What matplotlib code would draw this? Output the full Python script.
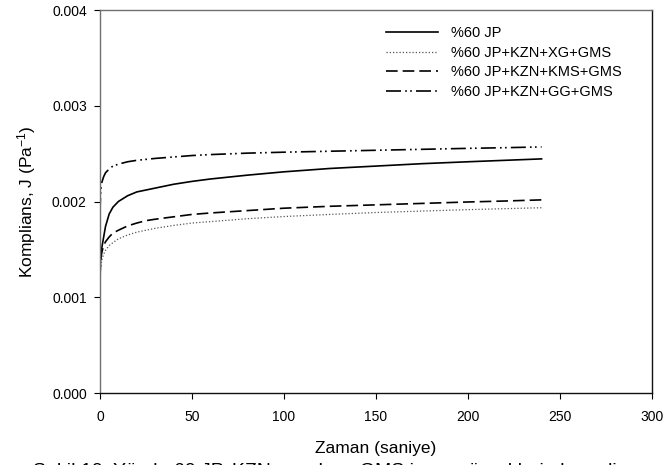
import numpy as np
import matplotlib
matplotlib.use("Agg")
import matplotlib.pyplot as plt
from matplotlib.ticker import FormatStrFormatter

plt.rcParams["font.family"] = ["Liberation Sans", "DejaVu Sans"]
plt.rcParams["mathtext.fontset"] = "custom"
plt.rcParams["mathtext.rm"] = "Liberation Sans"
plt.rcParams["mathtext.default"] = "regular"

# creep compliance (x 1e-3 Pa^-1) vs time (s)
time_s = [0, 0.1, 0.3, 0.6, 1, 2, 3, 5, 7, 10, 15, 20, 25, 30, 40, 50,
          60, 80, 100, 125, 150, 175, 200, 220, 240]
j_jp = [0, 1.30, 1.40, 1.46, 1.52, 1.63, 1.74, 1.87, 1.94, 2.00, 2.06, 2.10,
        2.12, 2.14, 2.18, 2.21, 2.235, 2.275, 2.31, 2.345, 2.37, 2.395,
        2.415, 2.43, 2.445]
j_xg = [0, 1.22, 1.30, 1.35, 1.39, 1.45, 1.49, 1.54, 1.57, 1.61, 1.65, 1.68,
        1.70, 1.72, 1.75, 1.775, 1.79, 1.82, 1.843, 1.865, 1.885, 1.90,
        1.915, 1.925, 1.935]
j_kms = [0, 1.25, 1.35, 1.42, 1.47, 1.54, 1.58, 1.63, 1.67, 1.70, 1.745,
         1.775, 1.80, 1.815, 1.84, 1.865, 1.88, 1.905, 1.93, 1.95, 1.965,
         1.98, 1.995, 2.005, 2.017]
j_gg = [0, 1.95, 2.08, 2.15, 2.20, 2.26, 2.30, 2.34, 2.37, 2.39, 2.415, 2.43,
        2.44, 2.45, 2.465, 2.48, 2.49, 2.505, 2.515, 2.525, 2.535, 2.545,
        2.555, 2.562, 2.57]

labels = ["%60 JP", "%60 JP+KZN+XG+GMS", "%60 JP+KZN+KMS+GMS", "%60 JP+KZN+GG+GMS"]
caption = "Şekil 10. Yüzde 60 JP, KZN, zamk ve GMS içeren örneklerin komplians eğrileri"

fig = plt.figure(figsize=(6.65, 4.65), dpi=100)
ax = fig.add_axes([100 / 665, 1 - 393 / 465, 552 / 665, 383 / 465])

t = np.array(time_s)
styles = [
    dict(color="black", lw=1.2, ls="-"),
    dict(color="#555555", lw=0.9, ls=(0, (1, 1.6))),
    dict(color="black", lw=1.2, ls=(0, (7, 3))),
    dict(color="black", lw=1.2, ls=(0, (9, 2.5, 1, 2, 1, 2.5))),
]
for vals, lab, st in zip([j_jp, j_xg, j_kms, j_gg], labels, styles):
    ax.plot(t, np.array(vals) * 1e-3, label=lab, **st)

ax.set_xlim(0, 300)
ax.set_ylim(0, 0.004)
ax.set_xticks(np.arange(0, 301, 50))
ax.set_yticks(np.arange(0, 0.0041, 0.001))
ax.yaxis.set_major_formatter(FormatStrFormatter("%.3f"))
ax.tick_params(direction="out", length=4.5, width=0.8, labelsize=10, pad=5)
ax.tick_params(axis="x", pad=8)

ax.spines["top"].set_color("#707070")
ax.spines["left"].set_color("#707070")
for s in ["bottom", "right"]:
    ax.spines[s].set_color("#111111")
for s in ax.spines.values():
    s.set_linewidth(1.0)

ax.set_xlabel("Zaman (saniye)", fontsize=12.5, labelpad=12)
ax.set_ylabel("Komplians, J (Pa$^{-1}$)", fontsize=12.5, labelpad=10)

ax.legend(loc="upper left", bbox_to_anchor=(0.518, 0.958), frameon=False,
          fontsize=10.5, handlelength=3.6, handletextpad=0.85, labelspacing=0.38,
          borderpad=0, borderaxespad=0)

# figure caption, partly below the bottom edge
fig.text(0.05, -11 / 465, caption, fontsize=14, va="baseline", ha="left")

fig.savefig("out.png", dpi=100)
